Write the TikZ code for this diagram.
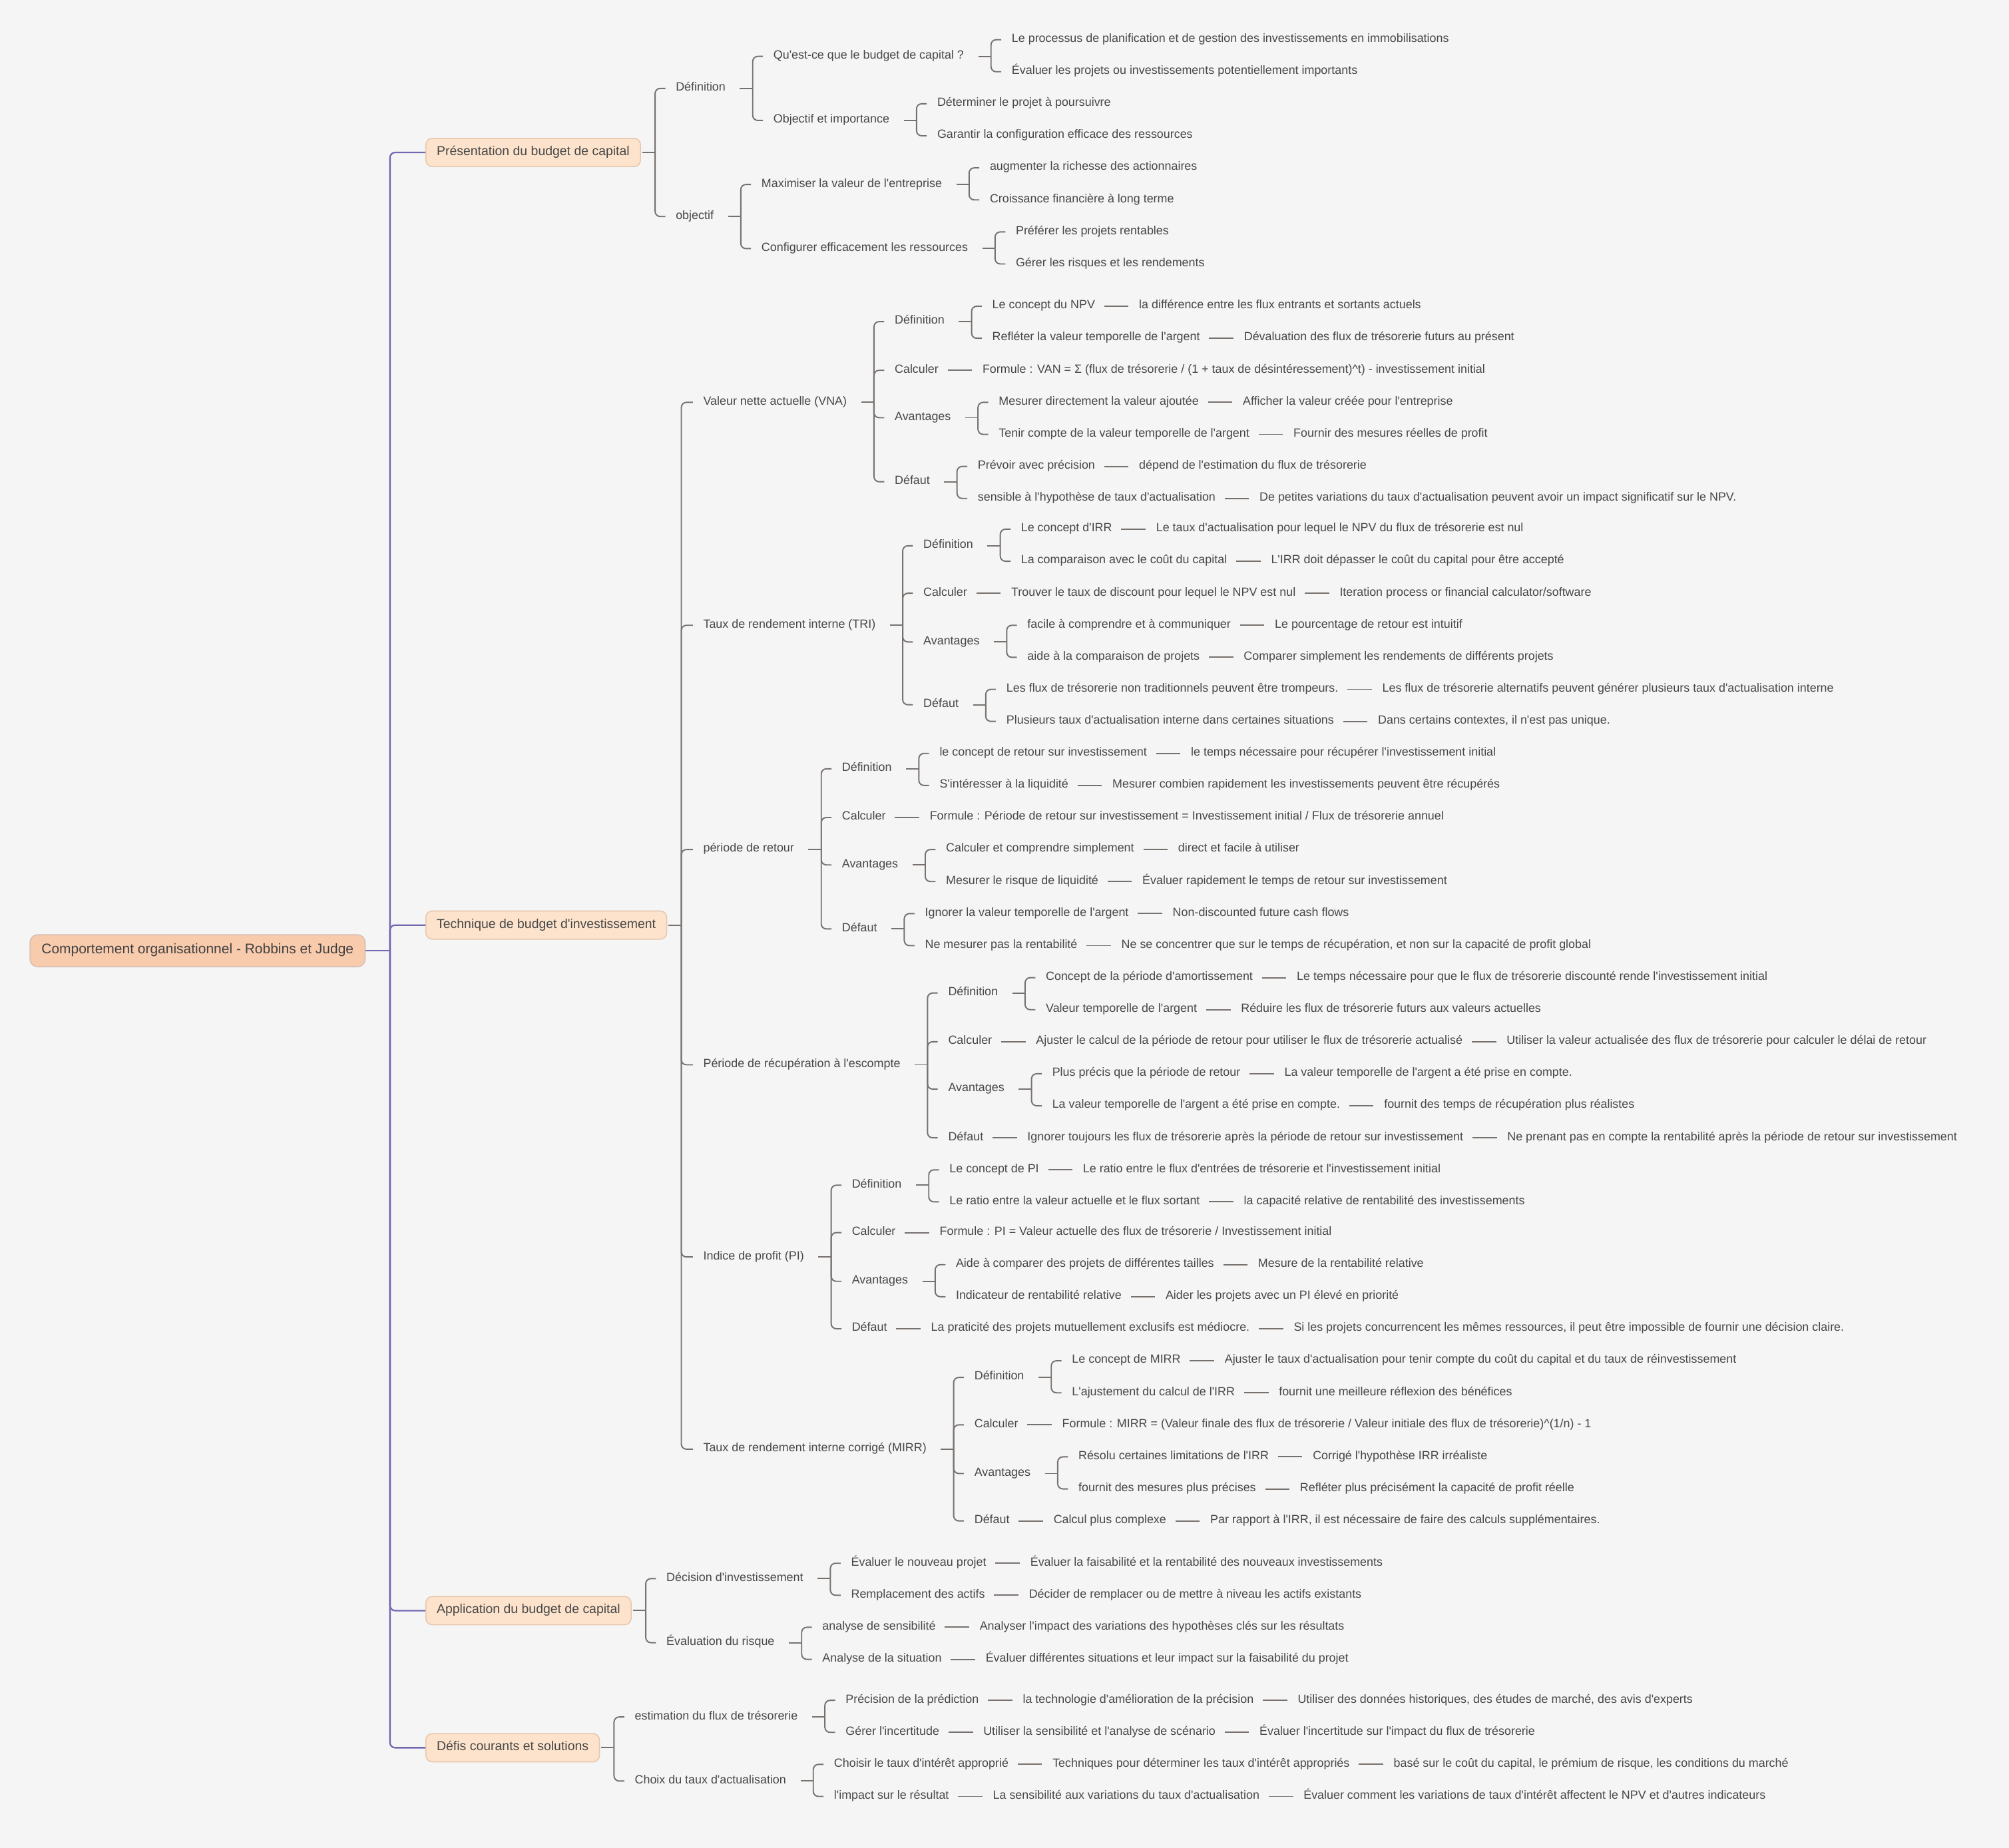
\documentclass[tikz,border=0pt]{standalone}
\usepackage{fontspec}
\setmainfont{Liberation Sans}[Ligatures=TeXOff]
\usetikzlibrary{positioning}

\definecolor{bg}{HTML}{F5F5F5}
\definecolor{rootfill}{HTML}{F8CBAD}
\definecolor{rootline}{HTML}{D6BFB5}
\definecolor{topfill}{HTML}{FDE3CC}
\definecolor{topline}{HTML}{E6C7AD}
\definecolor{limbcol}{HTML}{7468B0}
\definecolor{wirecol}{HTML}{77716E}
\definecolor{ink}{HTML}{474747}

% parent -> several children: stub, then a rounded bracket
\newcommand\branchto[3]{%
  \draw[wire] ([xshift=#1]#2.east) -- ++(10pt,0);
  \foreach \c in {#3}
    \draw[wire, rounded corners=4pt] ([xshift=#1+10pt]#2.east) |- ([xshift=-8pt]\c.west);}

\begin{document}
\begin{tikzpicture}[x=1pt, y=-1pt, text=ink,
	font=\fontsize{9.3pt}{11pt}\selectfont,
	txt/.style = {anchor=west, inner sep=0pt, text height=6.8pt, text depth=2.8pt},
	topic/.style = {draw=topline, fill=topfill, line width=0.8pt, rounded corners=5pt, anchor=west,
		inner xsep=8.5pt, inner ysep=0pt, minimum height=22pt, text height=7.4pt, text depth=2.8pt,
		font=\fontsize{10.1pt}{12pt}\selectfont},
	central/.style = {draw=rootline, fill=rootfill, line width=0.8pt, rounded corners=6pt, anchor=west,
		inner xsep=9pt, inner ysep=0pt, minimum height=25pt, text height=8pt, text depth=3pt,
		text=black!75, font=\fontsize{10.9pt}{13pt}\selectfont},
	wire/.style = {draw=wirecol, line width=1pt},
	limb/.style = {draw=limbcol, line width=1.2pt}]
\useasboundingbox[fill=bg] (0,0) rectangle (1568,1442);

% root and main topics
\node[central] (root) at (23,742) {Comportement organisationnel - Robbins et Judge};
\node[topic] (p) at (332,119) {Présentation du budget de capital};
\node[topic] (t) at (332,722) {Technique de budget d'investissement};
\node[topic] (a) at (332,1257) {Application du budget de capital};
\node[topic] (d) at (332,1364) {Défis courants et solutions};

% Présentation du budget de capital
\node[txt] (p1) at ([xshift=27pt]p.east |- 0,69) {Définition};
\node[txt] (p2) at ([xshift=27pt]p.east |- 0,169) {objectif};
\node[txt] (p11) at ([xshift=37pt]p1.east |- 0,44) {Qu'est-ce que le budget de capital ?};
\node[txt] (p12) at ([xshift=37pt]p1.east |- 0,94) {Objectif et importance};
\node[txt] (p111) at ([xshift=37pt]p11.east |- 0,31) {Le processus de planification et de gestion des investissements en immobilisations};
\node[txt] (p112) at ([xshift=37pt]p11.east |- 0,56) {Évaluer les projets ou investissements potentiellement importants};
\node[txt] (p121) at ([xshift=37pt]p12.east |- 0,81) {Déterminer le projet à poursuivre};
\node[txt] (p122) at ([xshift=37pt]p12.east |- 0,106) {Garantir la configuration efficace des ressources};
\node[txt] (p21) at ([xshift=37pt]p2.east |- 0,144) {Maximiser la valeur de l'entreprise};
\node[txt] (p22) at ([xshift=37pt]p2.east |- 0,194) {Configurer efficacement les ressources};
\node[txt] (p211) at ([xshift=37pt]p21.east |- 0,131) {augmenter la richesse des actionnaires};
\node[txt] (p212) at ([xshift=37pt]p21.east |- 0,156) {Croissance financière à long terme};
\node[txt] (p221) at ([xshift=37pt]p22.east |- 0,181) {Préférer les projets rentables};
\node[txt] (p222) at ([xshift=37pt]p22.east |- 0,206) {Gérer les risques et les rendements};

% Technique de budget d'investissement
\node[txt] (t1) at ([xshift=28pt]t.east |- 0,314) {Valeur nette actuelle (VNA)};
\node[txt] (t2) at ([xshift=28pt]t.east |- 0,488) {Taux de rendement interne (TRI)};
\node[txt] (t3) at ([xshift=28pt]t.east |- 0,663) {période de retour};
\node[txt] (t4) at ([xshift=28pt]t.east |- 0,831) {Période de récupération à l'escompte};
\node[txt] (t5) at ([xshift=28pt]t.east |- 0,981) {Indice de profit (PI)};
\node[txt] (t6) at ([xshift=28pt]t.east |- 0,1131) {Taux de rendement interne corrigé (MIRR)};

% VNA
\node[txt] (t11) at ([xshift=37pt]t1.east |- 0,251) {Définition};
\node[txt] (t12) at ([xshift=37pt]t1.east |- 0,289) {Calculer};
\node[txt] (t13) at ([xshift=37pt]t1.east |- 0,326) {Avantages};
\node[txt] (t14) at ([xshift=37pt]t1.east |- 0,376) {Défaut};
\node[txt] (t111) at ([xshift=37pt]t11.east |- 0,239) {Le concept du NPV};
\node[txt, right=34pt of t111] (t111x) {la différence entre les flux entrants et sortants actuels};
\node[txt] (t112) at ([xshift=37pt]t11.east |- 0,264) {Refléter la valeur temporelle de l'argent};
\node[txt, right=34pt of t112] (t112x) {Dévaluation des flux de trésorerie futurs au présent};
\node[txt, right=34pt of t12] (t12x) {Formule : VAN = Σ (flux de trésorerie / (1 + taux de désintéressement)\textasciicircum t) - investissement initial};
\node[txt] (t131) at ([xshift=37pt]t13.east |- 0,314) {Mesurer directement la valeur ajoutée};
\node[txt, right=34pt of t131] (t131x) {Afficher la valeur créée pour l'entreprise};
\node[txt] (t132) at ([xshift=37pt]t13.east |- 0,339) {Tenir compte de la valeur temporelle de l'argent};
\node[txt, right=34pt of t132] (t132x) {Fournir des mesures réelles de profit};
\node[txt] (t141) at ([xshift=37pt]t14.east |- 0,364) {Prévoir avec précision};
\node[txt, right=34pt of t141] (t141x) {dépend de l'estimation du flux de trésorerie};
\node[txt] (t142) at ([xshift=37pt]t14.east |- 0,389) {sensible à l'hypothèse de taux d'actualisation};
\node[txt, right=34pt of t142] (t142x) {De petites variations du taux d'actualisation peuvent avoir un impact significatif sur le NPV.};

% TRI
\node[txt] (t21) at ([xshift=37pt]t2.east |- 0,426) {Définition};
\node[txt] (t22) at ([xshift=37pt]t2.east |- 0,463) {Calculer};
\node[txt] (t23) at ([xshift=37pt]t2.east |- 0,501) {Avantages};
\node[txt] (t24) at ([xshift=37pt]t2.east |- 0,550) {Défaut};
\node[txt] (t211) at ([xshift=37pt]t21.east |- 0,413) {Le concept d'IRR};
\node[txt, right=34pt of t211] (t211x) {Le taux d'actualisation pour lequel le NPV du flux de trésorerie est nul};
\node[txt] (t212) at ([xshift=37pt]t21.east |- 0,438) {La comparaison avec le coût du capital};
\node[txt, right=34pt of t212] (t212x) {L'IRR doit dépasser le coût du capital pour être accepté};
\node[txt, right=34pt of t22] (t22x) {Trouver le taux de discount pour lequel le NPV est nul};
\node[txt, right=34pt of t22x] (t22xx) {Iteration process or financial calculator/software};
\node[txt] (t231) at ([xshift=37pt]t23.east |- 0,488) {facile à comprendre et à communiquer};
\node[txt, right=34pt of t231] (t231x) {Le pourcentage de retour est intuitif};
\node[txt] (t232) at ([xshift=37pt]t23.east |- 0,513) {aide à la comparaison de projets};
\node[txt, right=34pt of t232] (t232x) {Comparer simplement les rendements de différents projets};
\node[txt] (t241) at ([xshift=37pt]t24.east |- 0,538) {Les flux de trésorerie non traditionnels peuvent être trompeurs.};
\node[txt, right=34pt of t241] (t241x) {Les flux de trésorerie alternatifs peuvent générer plusieurs taux d'actualisation interne};
\node[txt] (t242) at ([xshift=37pt]t24.east |- 0,563) {Plusieurs taux d'actualisation interne dans certaines situations};
\node[txt, right=34pt of t242] (t242x) {Dans certains contextes, il n'est pas unique.};

% période de retour
\node[txt] (t31) at ([xshift=37pt]t3.east |- 0,600) {Définition};
\node[txt] (t32) at ([xshift=37pt]t3.east |- 0,638) {Calculer};
\node[txt] (t33) at ([xshift=37pt]t3.east |- 0,675) {Avantages};
\node[txt] (t34) at ([xshift=37pt]t3.east |- 0,725) {Défaut};
\node[txt] (t311) at ([xshift=37pt]t31.east |- 0,588) {le concept de retour sur investissement};
\node[txt, right=34pt of t311] (t311x) {le temps nécessaire pour récupérer l'investissement initial};
\node[txt] (t312) at ([xshift=37pt]t31.east |- 0,613) {S'intéresser à la liquidité};
\node[txt, right=34pt of t312] (t312x) {Mesurer combien rapidement les investissements peuvent être récupérés};
\node[txt, right=34pt of t32] (t32x) {Formule : Période de retour sur investissement = Investissement initial / Flux de trésorerie annuel};
\node[txt] (t331) at ([xshift=37pt]t33.east |- 0,663) {Calculer et comprendre simplement};
\node[txt, right=34pt of t331] (t331x) {direct et facile à utiliser};
\node[txt] (t332) at ([xshift=37pt]t33.east |- 0,688) {Mesurer le risque de liquidité};
\node[txt, right=34pt of t332] (t332x) {Évaluer rapidement le temps de retour sur investissement};
\node[txt] (t341) at ([xshift=37pt]t34.east |- 0,713) {Ignorer la valeur temporelle de l'argent};
\node[txt, right=34pt of t341] (t341x) {Non-discounted future cash flows};
\node[txt] (t342) at ([xshift=37pt]t34.east |- 0,738) {Ne mesurer pas la rentabilité};
\node[txt, right=34pt of t342] (t342x) {Ne se concentrer que sur le temps de récupération, et non sur la capacité de profit global};

% Période de récupération à l'escompte
\node[txt] (t41) at ([xshift=37pt]t4.east |- 0,775) {Définition};
\node[txt] (t42) at ([xshift=37pt]t4.east |- 0,813) {Calculer};
\node[txt] (t43) at ([xshift=37pt]t4.east |- 0,850) {Avantages};
\node[txt] (t44) at ([xshift=37pt]t4.east |- 0,888) {Défaut};
\node[txt] (t411) at ([xshift=37pt]t41.east |- 0,763) {Concept de la période d'amortissement};
\node[txt, right=34pt of t411] (t411x) {Le temps nécessaire pour que le flux de trésorerie discounté rende l'investissement initial};
\node[txt] (t412) at ([xshift=37pt]t41.east |- 0,788) {Valeur temporelle de l'argent};
\node[txt, right=34pt of t412] (t412x) {Réduire les flux de trésorerie futurs aux valeurs actuelles};
\node[txt, right=34pt of t42] (t42x) {Ajuster le calcul de la période de retour pour utiliser le flux de trésorerie actualisé};
\node[txt, right=34pt of t42x] (t42xx) {Utiliser la valeur actualisée des flux de trésorerie pour calculer le délai de retour};
\node[txt] (t431) at ([xshift=37pt]t43.east |- 0,838) {Plus précis que la période de retour};
\node[txt, right=34pt of t431] (t431x) {La valeur temporelle de l'argent a été prise en compte.};
\node[txt] (t432) at ([xshift=37pt]t43.east |- 0,863) {La valeur temporelle de l'argent a été prise en compte.};
\node[txt, right=34pt of t432] (t432x) {fournit des temps de récupération plus réalistes};
\node[txt, right=34pt of t44] (t44x) {Ignorer toujours les flux de trésorerie après la période de retour sur investissement};
\node[txt, right=34pt of t44x] (t44xx) {Ne prenant pas en compte la rentabilité après la période de retour sur investissement};

% Indice de profit
\node[txt] (t51) at ([xshift=37pt]t5.east |- 0,925) {Définition};
\node[txt] (t52) at ([xshift=37pt]t5.east |- 0,962) {Calculer};
\node[txt] (t53) at ([xshift=37pt]t5.east |- 0,1000) {Avantages};
\node[txt] (t54) at ([xshift=37pt]t5.east |- 0,1037) {Défaut};
\node[txt] (t511) at ([xshift=37pt]t51.east |- 0,913) {Le concept de PI};
\node[txt, right=34pt of t511] (t511x) {Le ratio entre le flux d'entrées de trésorerie et l'investissement initial};
\node[txt] (t512) at ([xshift=37pt]t51.east |- 0,938) {Le ratio entre la valeur actuelle et le flux sortant};
\node[txt, right=34pt of t512] (t512x) {la capacité relative de rentabilité des investissements};
\node[txt, right=34pt of t52] (t52x) {Formule : PI = Valeur actuelle des flux de trésorerie / Investissement initial};
\node[txt] (t531) at ([xshift=37pt]t53.east |- 0,987) {Aide à comparer des projets de différentes tailles};
\node[txt, right=34pt of t531] (t531x) {Mesure de la rentabilité relative};
\node[txt] (t532) at ([xshift=37pt]t53.east |- 0,1012) {Indicateur de rentabilité relative};
\node[txt, right=34pt of t532] (t532x) {Aider les projets avec un PI élevé en priorité};
\node[txt, right=34pt of t54] (t54x) {La praticité des projets mutuellement exclusifs est médiocre.};
\node[txt, right=34pt of t54x] (t54xx) {Si les projets concurrencent les mêmes ressources, il peut être impossible de fournir une décision claire.};

% MIRR
\node[txt] (t61) at ([xshift=37pt]t6.east |- 0,1075) {Définition};
\node[txt] (t62) at ([xshift=37pt]t6.east |- 0,1112) {Calculer};
\node[txt] (t63) at ([xshift=37pt]t6.east |- 0,1150) {Avantages};
\node[txt] (t64) at ([xshift=37pt]t6.east |- 0,1187) {Défaut};
\node[txt] (t611) at ([xshift=37pt]t61.east |- 0,1062) {Le concept de MIRR};
\node[txt, right=34pt of t611] (t611x) {Ajuster le taux d'actualisation pour tenir compte du coût du capital et du taux de réinvestissement};
\node[txt] (t612) at ([xshift=37pt]t61.east |- 0,1087) {L'ajustement du calcul de l'IRR};
\node[txt, right=34pt of t612] (t612x) {fournit une meilleure réflexion des bénéfices};
\node[txt, right=34pt of t62] (t62x) {Formule : MIRR = (Valeur finale des flux de trésorerie / Valeur initiale des flux de trésorerie)\textasciicircum(1/n) - 1};
\node[txt] (t631) at ([xshift=37pt]t63.east |- 0,1137) {Résolu certaines limitations de l'IRR};
\node[txt, right=34pt of t631] (t631x) {Corrigé l'hypothèse IRR irréaliste};
\node[txt] (t632) at ([xshift=37pt]t63.east |- 0,1162) {fournit des mesures plus précises};
\node[txt, right=34pt of t632] (t632x) {Refléter plus précisément la capacité de profit réelle};
\node[txt, right=34pt of t64] (t64x) {Calcul plus complexe};
\node[txt, right=34pt of t64x] (t64xx) {Par rapport à l'IRR, il est nécessaire de faire des calculs supplémentaires.};

% Application du budget de capital
\node[txt] (a1) at ([xshift=27pt]a.east |- 0,1232) {Décision d'investissement};
\node[txt] (a2) at ([xshift=27pt]a.east |- 0,1282) {Évaluation du risque};
\node[txt] (a11) at ([xshift=37pt]a1.east |- 0,1220) {Évaluer le nouveau projet};
\node[txt, right=34pt of a11] (a11x) {Évaluer la faisabilité et la rentabilité des nouveaux investissements};
\node[txt] (a12) at ([xshift=37pt]a1.east |- 0,1245) {Remplacement des actifs};
\node[txt, right=34pt of a12] (a12x) {Décider de remplacer ou de mettre à niveau les actifs existants};
\node[txt] (a21) at ([xshift=37pt]a2.east |- 0,1270) {analyse de sensibilité};
\node[txt, right=34pt of a21] (a21x) {Analyser l'impact des variations des hypothèses clés sur les résultats};
\node[txt] (a22) at ([xshift=37pt]a2.east |- 0,1295) {Analyse de la situation};
\node[txt, right=34pt of a22] (a22x) {Évaluer différentes situations et leur impact sur la faisabilité du projet};

% Défis courants et solutions
\node[txt] (d1) at ([xshift=27pt]d.east |- 0,1340) {estimation du flux de trésorerie};
\node[txt] (d2) at ([xshift=27pt]d.east |- 0,1390) {Choix du taux d'actualisation};
\node[txt] (d11) at ([xshift=37pt]d1.east |- 0,1327) {Précision de la prédiction};
\node[txt, right=34pt of d11] (d11x) {la technologie d'amélioration de la précision};
\node[txt, right=34pt of d11x] (d11xx) {Utiliser des données historiques, des études de marché, des avis d'experts};
\node[txt] (d12) at ([xshift=37pt]d1.east |- 0,1352) {Gérer l'incertitude};
\node[txt, right=34pt of d12] (d12x) {Utiliser la sensibilité et l'analyse de scénario};
\node[txt, right=34pt of d12x] (d12xx) {Évaluer l'incertitude sur l'impact du flux de trésorerie};
\node[txt] (d21) at ([xshift=37pt]d2.east |- 0,1377) {Choisir le taux d'intérêt approprié};
\node[txt, right=34pt of d21] (d21x) {Techniques pour déterminer les taux d'intérêt appropriés};
\node[txt, right=34pt of d21x] (d21xx) {basé sur le coût du capital, le prémium de risque, les conditions du marché};
\node[txt] (d22) at ([xshift=37pt]d2.east |- 0,1402) {l'impact sur le résultat};
\node[txt, right=34pt of d22] (d22x) {La sensibilité aux variations du taux d'actualisation};
\node[txt, right=34pt of d22x] (d22xx) {Évaluer comment les variations de taux d'intérêt affectent le NPV et d'autres indicateurs};

% trunk from the root
\draw[limb] (root.east) -- ++(19,0);
\foreach \n in {p,t,a,d}
	\draw[limb, rounded corners=4pt] ([xshift=19pt]root.east) |- (\n.west);

% brackets
\branchto{1pt}{p}{p1,p2}
\branchto{1pt}{t}{t1,t2,t3,t4,t5,t6}
\branchto{1pt}{a}{a1,a2}
\branchto{1pt}{d}{d1,d2}
\branchto{11pt}{p1}{p11,p12}
\branchto{11pt}{p2}{p21,p22}
\branchto{11pt}{p11}{p111,p112}
\branchto{11pt}{p12}{p121,p122}
\branchto{11pt}{p21}{p211,p212}
\branchto{11pt}{p22}{p221,p222}
\branchto{11pt}{t1}{t11,t12,t13,t14}
\branchto{11pt}{t11}{t111,t112}
\branchto{11pt}{t13}{t131,t132}
\branchto{11pt}{t14}{t141,t142}
\branchto{11pt}{t2}{t21,t22,t23,t24}
\branchto{11pt}{t21}{t211,t212}
\branchto{11pt}{t23}{t231,t232}
\branchto{11pt}{t24}{t241,t242}
\branchto{11pt}{t3}{t31,t32,t33,t34}
\branchto{11pt}{t31}{t311,t312}
\branchto{11pt}{t33}{t331,t332}
\branchto{11pt}{t34}{t341,t342}
\branchto{11pt}{t4}{t41,t42,t43,t44}
\branchto{11pt}{t41}{t411,t412}
\branchto{11pt}{t43}{t431,t432}
\branchto{11pt}{t5}{t51,t52,t53,t54}
\branchto{11pt}{t51}{t511,t512}
\branchto{11pt}{t53}{t531,t532}
\branchto{11pt}{t6}{t61,t62,t63,t64}
\branchto{11pt}{t61}{t611,t612}
\branchto{11pt}{t63}{t631,t632}
\branchto{11pt}{a1}{a11,a12}
\branchto{11pt}{a2}{a21,a22}
\branchto{11pt}{d1}{d11,d12}
\branchto{11pt}{d2}{d21,d22}

% straight links between a node and the one after it
\foreach \u/\v in {t111/t111x, t112/t112x, t12/t12x, t131/t131x, t132/t132x, t141/t141x, t142/t142x,
	t211/t211x, t212/t212x, t22/t22x, t22x/t22xx, t231/t231x, t232/t232x, t241/t241x, t242/t242x,
	t311/t311x, t312/t312x, t32/t32x, t331/t331x, t332/t332x, t341/t341x, t342/t342x,
	t411/t411x, t412/t412x, t42/t42x, t42x/t42xx, t431/t431x, t432/t432x, t44/t44x, t44x/t44xx,
	t511/t511x, t512/t512x, t52/t52x, t531/t531x, t532/t532x, t54/t54x, t54x/t54xx,
	t611/t611x, t612/t612x, t62/t62x, t631/t631x, t632/t632x, t64/t64x, t64x/t64xx,
	a11/a11x, a12/a12x, a21/a21x, a22/a22x,
	d11/d11x, d11x/d11xx, d12/d12x, d12x/d12xx, d21/d21x, d21x/d21xx, d22/d22x, d22x/d22xx}
	\draw[wire] ([xshift=7pt]\u.east) -- ([xshift=-8pt]\v.west);
\end{tikzpicture}
\end{document}
